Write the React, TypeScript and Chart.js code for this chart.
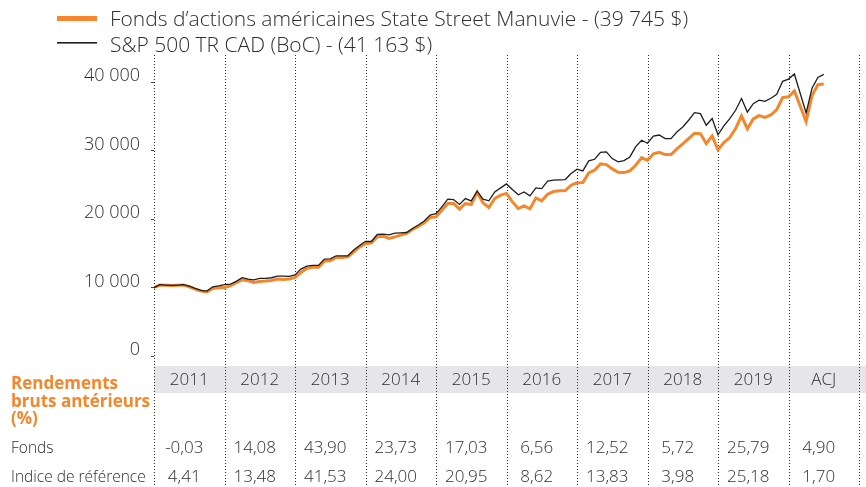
import { useEffect, useRef } from 'react';
import { Chart, registerables } from 'chart.js';

Chart.register(...registerables);

// Monthly values, Dec 2010 (index 0) to Jun 2020 (index 114)
const fundValues = [
  10000, 10370, 10330, 10290, 10330, 10370, 10120, 9780, 9490, 9350, 9880, 9970, 9997,
  10270, 10710, 11140, 11000, 10760, 10900, 10950, 11050, 11240, 11190, 11240, 11500,
  12200, 12800, 12990, 12990, 13870, 13920, 14400, 14400, 14500, 15230, 15960, 16412,
  16550, 17420, 17520, 17180, 17420, 17670, 17910, 18490, 18930, 19470, 20250, 20330,
  21320, 22290, 22290, 21460, 22290, 22150, 23940, 22390, 21710, 23020, 23510, 23765,
  22530, 21560, 21950, 21510, 23110, 22680, 23650, 24040, 24140, 24190, 24970, 25324,
  25360, 26770, 27160, 28080, 27980, 27350, 26860, 26810, 27060, 27890, 29010, 28600,
  29550, 29780, 29450, 29450, 30270, 31000, 31780, 32560, 32510, 31050, 32170, 30124,
  31200, 31930, 33240, 35090, 33190, 34650, 35140, 34890, 35230, 36020, 37770, 37893,
  38740, 36500, 34260, 38060, 39660, 39745,
];

const indexValues = [
  10000, 10420, 10370, 10330, 10370, 10420, 10220, 9880, 9590, 9490, 10120, 10260, 10441,
  10520, 10910, 11440, 11240, 11140, 11340, 11340, 11440, 11680, 11680, 11630, 11848,
  12700, 13140, 13240, 13240, 14160, 14210, 14650, 14650, 14650, 15480, 16160, 16769,
  16740, 17760, 17810, 17710, 17960, 18010, 18050, 18640, 19150, 19730, 20590, 20793,
  21800, 22920, 22870, 22150, 23020, 22680, 24090, 22920, 22680, 23990, 24580, 25150,
  24330, 23560, 23990, 23410, 24580, 24480, 25550, 25700, 25750, 25790, 26670, 27318,
  27060, 28520, 28760, 29780, 29830, 28860, 28370, 28570, 29100, 30610, 31540, 31096,
  32150, 32300, 31780, 31780, 32750, 33480, 34460, 35580, 35430, 33730, 34700, 32334,
  33630, 34700, 35920, 37650, 35650, 36890, 37400, 37230, 37670, 38250, 40150, 40476,
  41220, 38370, 35530, 39130, 40730, 41163,
];

const yTickValues = [0, 10000, 20000, 30000, 40000];
const columnLabels = ['2011', '2012', '2013', '2014', '2015', '2016', '2017', '2018', '2019', 'ACJ'];
const fundReturns = [-0.03, 14.08, 43.9, 23.73, 17.03, 6.56, 12.52, 5.72, 25.79, 4.9];
const indexReturns = [4.41, 13.48, 41.53, 24.0, 20.95, 8.62, 13.83, 3.98, 25.18, 1.7];
const legendLabels = [
  'Fonds d’actions américaines State Street Manuvie - (39 745 $)',
  'S&P 500 TR CAD (BoC) - (41 163 $)',
];
const tableTitle = ['Rendements', 'bruts antérieurs', '(%)'];
const rowLabels = ['Fonds', 'Indice de référence'];

const ORANGE = '#f5862b';
const BLACK = '#1e1e1e';
const TEXT = '#2e2e2e';
const FONT = '"Open Sans", "DejaVu Sans", sans-serif';
const MONTHS = 12;

const fmtThousands = (v: number) => String(v).replace(/\B(?=(\d{3})+(?!\d))/g, ' ');
const fmtPct = (v: number) => v.toFixed(2).replace('.', ',');

const tablePlugin = {
  id: 'perfTable',
  beforeDatasetsDraw(chart: any) {
    const { ctx } = chart;
    const x = chart.scales.x;
    const left = x.getPixelForValue(0);
    ctx.save();
    ctx.fillStyle = '#e6e6e8';
    ctx.fillRect(left, 366, chart.width - left, 27);
    ctx.strokeStyle = '#2a2a2a';
    ctx.lineWidth = 1;
    ctx.setLineDash([1, 2]);
    for (let i = 0; i <= columnLabels.length; i++) {
      const px = Math.round(x.getPixelForValue(i * MONTHS)) + 0.5;
      ctx.beginPath();
      ctx.moveTo(px, 55);
      ctx.lineTo(px, chart.height);
      ctx.stroke();
    }
    ctx.restore();
  },
  afterDraw(chart: any) {
    const { ctx } = chart;
    const x = chart.scales.x;
    ctx.save();
    // legend
    ctx.fillStyle = ORANGE;
    ctx.fillRect(57, 16, 40, 5);
    ctx.fillStyle = BLACK;
    ctx.fillRect(57, 42, 40, 1.6);
    ctx.fillStyle = TEXT;
    ctx.font = `300 21px ${FONT}`;
    ctx.textAlign = 'left';
    ctx.textBaseline = 'alphabetic';
    ctx.fillText(legendLabels[0], 110, 26);
    ctx.fillText(legendLabels[1], 110, 51.5);

    // column headers
    ctx.font = `300 17px ${FONT}`;
    ctx.textAlign = 'center';
    ctx.textBaseline = 'middle';
    columnLabels.forEach((lab, i) => {
      const cx = (x.getPixelForValue(i * MONTHS) + x.getPixelForValue((i + 1) * MONTHS)) / 2;
      ctx.fillText(lab, cx, 380);
    });

    // table title
    ctx.fillStyle = ORANGE;
    ctx.font = `bold 17px ${FONT}`;
    ctx.textAlign = 'left';
    ctx.textBaseline = 'alphabetic';
    ctx.fillText(tableTitle[0], 11, 389);
    ctx.fillText(tableTitle[1], 11, 407);
    ctx.fillText(tableTitle[2], 11, 424);

    // row labels
    ctx.fillStyle = TEXT;
    ctx.font = `300 15.5px ${FONT}`;
    ctx.fillText(rowLabels[0], 11, 453);
    ctx.fillText(rowLabels[1], 11, 481.5);

    // values
    ctx.font = `300 17px ${FONT}`;
    ctx.textAlign = 'center';
    columnLabels.forEach((_, i) => {
      const cx = (x.getPixelForValue(i * MONTHS) + x.getPixelForValue((i + 1) * MONTHS)) / 2 - 5;
      ctx.fillText(fmtPct(fundReturns[i]), cx, 453);
      ctx.fillText(fmtPct(indexReturns[i]), cx, 481.5);
    });
    ctx.restore();
  },
};

export default function App() {
  const canvasRef = useRef<HTMLCanvasElement | null>(null);

  useEffect(() => {
    document.body.style.margin = '0';
    const canvas = canvasRef.current;
    if (!canvas) return;
    const chart = new Chart(canvas, {
      type: 'line',
      data: {
        datasets: [
          {
            label: legendLabels[0],
            data: fundValues.map((v, i) => ({ x: i, y: v })),
            borderColor: ORANGE,
            backgroundColor: ORANGE,
            borderWidth: 3,
            pointRadius: 0,
            tension: 0,
            order: 1,
          },
          {
            label: legendLabels[1],
            data: indexValues.map((v, i) => ({ x: i, y: v })),
            borderColor: BLACK,
            backgroundColor: BLACK,
            borderWidth: 1.3,
            pointRadius: 0,
            tension: 0,
            order: 0,
          },
        ],
      },
      options: {
        animation: false,
        responsive: true,
        maintainAspectRatio: false,
        layout: { padding: { left: 0, right: 7, top: 55, bottom: 131 } },
        plugins: { legend: { display: false }, tooltip: { enabled: false } },
        scales: {
          x: { type: 'linear', min: 0, max: columnLabels.length * MONTHS, display: false },
          y: {
            min: 0,
            max: 44000,
            afterFit: (scale: any) => {
              scale.width = 154;
            },
            afterBuildTicks: (scale: any) => {
              scale.ticks = yTickValues.map((v) => ({ value: v }));
            },
            border: { display: false },
            grid: {
              display: true,
              drawOnChartArea: false,
              drawTicks: true,
              tickLength: 3,
              tickColor: '#444',
            },
            ticks: {
              padding: 11,
              labelOffset: -6,
              color: TEXT,
              font: { family: FONT, size: 18, weight: '300' },
              callback: (v: any) => fmtThousands(Number(v)),
            },
          },
        },
      },
      plugins: [tablePlugin],
    });
    return () => chart.destroy();
  }, []);

  return (
    <div style={{ position: 'relative', width: 866, height: 487 }}>
      <canvas ref={canvasRef} />
    </div>
  );
}
